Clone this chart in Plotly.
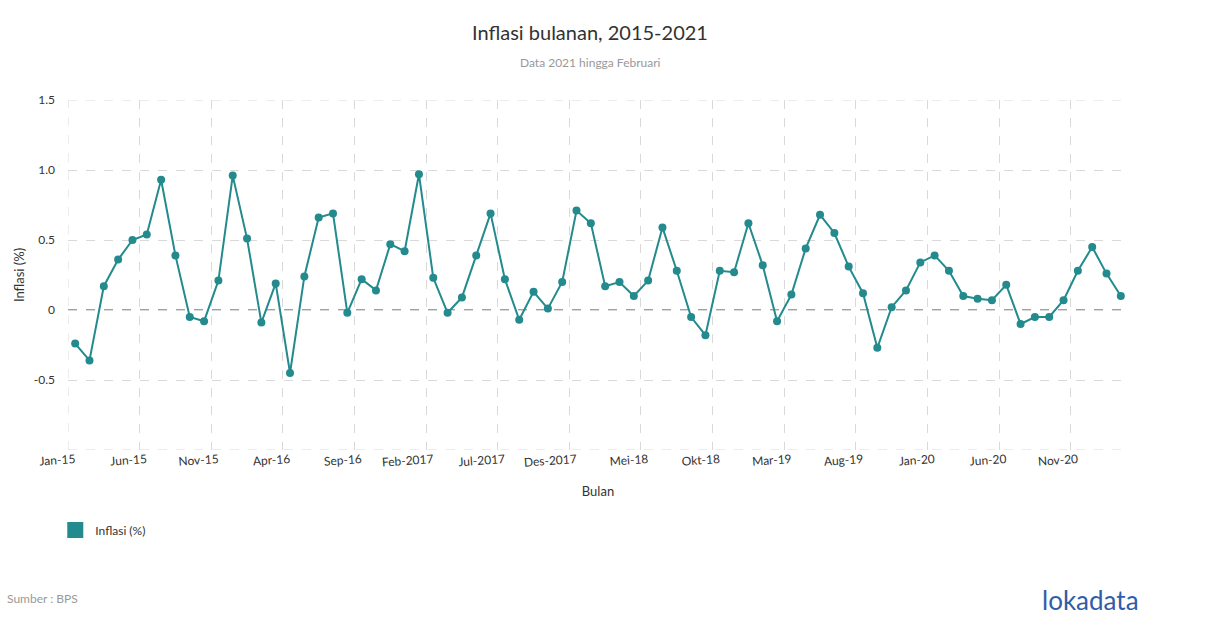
import plotly.graph_objects as go

# ---- data ----
bulan_singkat = ["Jan", "Feb", "Mar", "Apr", "Mei", "Jun", "Jul", "Aug", "Sep", "Okt", "Nov", "Des"]
tahun_label = ["15", "16", "2017", "18", "19", "20", "21"]
inflasi = [
    -0.24, -0.36, 0.17, 0.36, 0.50, 0.54, 0.93, 0.39, -0.05, -0.08, 0.21, 0.96,   # 2015
    0.51, -0.09, 0.19, -0.45, 0.24, 0.66, 0.69, -0.02, 0.22, 0.14, 0.47, 0.42,    # 2016
    0.97, 0.23, -0.02, 0.09, 0.39, 0.69, 0.22, -0.07, 0.13, 0.01, 0.20, 0.71,     # 2017
    0.62, 0.17, 0.20, 0.10, 0.21, 0.59, 0.28, -0.05, -0.18, 0.28, 0.27, 0.62,     # 2018
    0.32, -0.08, 0.11, 0.44, 0.68, 0.55, 0.31, 0.12, -0.27, 0.02, 0.14, 0.34,     # 2019
    0.39, 0.28, 0.10, 0.08, 0.07, 0.18, -0.10, -0.05, -0.05, 0.07, 0.28, 0.45,    # 2020
    0.26, 0.10,                                                                 # 2021
]
categories = [f"{m}-{y}" for y in tahun_label for m in bulan_singkat][:len(inflasi)]
y_tick_vals = [-1, -0.5, 0, 0.5, 1.0, 1.5]
y_tick_text = ["", "-0.5", "0", "0.5", "1.0", "1.5"]
tick_step = 5

# ---- figure ----
TEAL = "#238a8d"
GRID = "#d9d9d9"
FONT = "Lato, 'Open Sans', sans-serif"
idx = list(range(len(inflasi)))
tick_idx = idx[::tick_step]
xr = [-0.5, len(inflasi) - 0.5]
yr = [y_tick_vals[0], y_tick_vals[-1]]

fig = go.Figure()
fig.add_trace(go.Scatter(
    x=idx, y=inflasi, mode="lines+markers", name="Inflasi (%)",
    line=dict(color=TEAL, width=2), marker=dict(color=TEAL, size=8),
    text=categories, hovertemplate="%{text}: %{y}<extra></extra>",
    showlegend=False, xaxis="x", yaxis="y",
))
# legend entry (square swatch)
fig.add_trace(go.Scatter(
    x=[None], y=[None], mode="markers", name="Inflasi (%)",
    marker=dict(color=TEAL, size=16, symbol="square"),
    showlegend=True, xaxis="x2", yaxis="y",
))

edge = dict(color=GRID, width=1, dash="dash")
fig.update_layout(
    width=1210, height=628,
    margin=dict(l=68, r=82, t=100, b=178),
    paper_bgcolor="white", plot_bgcolor="white",
    font=dict(family=FONT, size=12, color="#333333"),
    title=dict(text="Inflasi bulanan, 2015-2021", x=590 / 1210, xanchor="center",
               y=1 - 33 / 628, yanchor="middle", yref="container",
               font=dict(size=20, color="#333333", family=FONT)),
    xaxis=dict(range=xr, tickmode="array", tickvals=[i - 0.5 for i in tick_idx],
               showticklabels=False, showgrid=True, gridcolor=GRID,
               griddash="dash", gridwidth=1, zeroline=False, showline=False,
               title=dict(text="Bulan", font=dict(size=13, color="#333333"), standoff=36)),
    xaxis2=dict(range=xr, overlaying="x", anchor="y", side="bottom",
                tickmode="array", tickvals=tick_idx,
                ticktext=[categories[i] for i in tick_idx], tickangle=-4,
                showgrid=False, zeroline=False, showline=False,
                tickfont=dict(size=12, color="#333333")),
    yaxis=dict(range=yr, tickmode="array", tickvals=y_tick_vals,
               ticktext=y_tick_text, showgrid=True, gridcolor=GRID,
               griddash="dash", gridwidth=1, zeroline=False, showline=False,
               ticklabelstandoff=12, tickfont=dict(size=12, color="#333333"),
               title=dict(text="Inflasi (%)", font=dict(size=13, color="#333333"), standoff=6)),
    legend=dict(orientation="h", x=-0.012, xanchor="left", y=-80 / 350, yanchor="middle",
                font=dict(size=12, color="#333333"), itemwidth=30),
    shapes=[
        # zero reference line
        dict(type="line", xref="paper", x0=0, x1=1, yref="y", y0=0, y1=0,
             line=dict(color="#404040", width=1, dash="dash"), layer="between"),
        # grid lines on the plot edges
        dict(type="line", xref="paper", x0=0, x1=1, yref="y", y0=yr[1], y1=yr[1],
             line=edge, layer="below"),
        dict(type="line", xref="paper", x0=0, x1=1, yref="y", y0=yr[0], y1=yr[0],
             line=edge, layer="below"),
        dict(type="line", xref="x", x0=xr[0], x1=xr[0], yref="paper", y0=0, y1=1,
             line=edge, layer="below"),
    ],
    annotations=[
        dict(text="Data 2021 hingga Februari", xref="paper", yref="paper",
             x=(590 - 68) / 1060, xanchor="center", y=1 + 38 / 350, yanchor="middle",
             showarrow=False, font=dict(size=12, color="#999999")),
        dict(text="Sumber : BPS", xref="paper", yref="paper",
             x=-63 / 1060, xanchor="left", y=-148 / 350, yanchor="middle",
             showarrow=False, font=dict(size=12, color="#999999")),
        dict(text="lokadata", xref="paper", yref="paper",
             x=1 + 13 / 1060, xanchor="right", y=-150 / 350, yanchor="middle",
             showarrow=False, font=dict(size=26, color="#2f5da8", family="Lato, sans-serif")),
    ],
)

fig.write_html("out.html")
